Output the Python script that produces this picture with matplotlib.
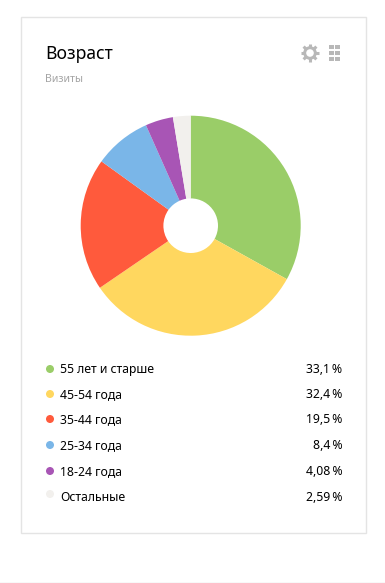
import matplotlib
matplotlib.use("Agg")
import matplotlib.pyplot as plt
from matplotlib.patches import Rectangle, Circle

W, H = 385, 583

labels = ["55 лет и старше", "45-54 года", "35-44 года", "25-34 года", "18-24 года", "Остальные"]
values = [33.1, 32.4, 19.5, 8.4, 4.08, 2.59]
value_labels = ["33,1\u2009%", "32,4\u2009%", "19,5\u2009%", "8,4\u2009%", "4,08\u2009%", "2,59\u2009%"]
colors = ["#9ACD68", "#FFD75F", "#FF5A3C", "#7AB6E8", "#A855B5", "#F2F0ED"]

plt.rcParams["font.family"] = ["Noto Sans", "DejaVu Sans"]

fig = plt.figure(figsize=(W / 100, H / 100), dpi=100)

# page layer in pixel coords, y pointing down
bg = fig.add_axes([0, 0, 1, 1])
bg.set_xlim(0, W)
bg.set_ylim(H, 0)
bg.axis("off")

bg.add_patch(Rectangle((20.5, 16.5), 345.5, 516.5, fc="white", ec="#E4E4E4", lw=1))
bg.plot([0, W], [582.5, 582.5], color="#E0E0E0", lw=1)

bg.text(45, 54, "Возраст", fontsize=12.6, color="black", va="center", ha="left")
bg.text(45, 79, "Визиты", fontsize=7.6, color="#A5A5A5", va="center", ha="left")

# gear icon
GRAY = "#B8B8B8"
gx0, gy0 = 310, 53
for dx, dy in [(9, 0), (0, 9), (6.4, 6.4), (6.4, -6.4)]:
    bg.plot([gx0 - dx, gx0 + dx], [gy0 - dy, gy0 + dy], color=GRAY, lw=2.2, solid_capstyle="butt")
bg.add_patch(Circle((gx0, gy0), 6.8, fc=GRAY, ec="none", zorder=3))
bg.add_patch(Circle((gx0, gy0), 3.8, fc="white", ec="none", zorder=4))

# grid icon
for gx in [329, 335]:
    for gy in [45, 51, 57]:
        bg.add_patch(Rectangle((gx, gy), 4.6, 4.4, fc=GRAY, ec="none"))

# pie
cx, cy, r = 190.7, 225.7, 110
size = 2 * r
pie_ax = fig.add_axes([(cx - r) / W, 1 - (cy + r) / H, size / W, size / H])
pie_ax.pie(values, colors=colors, startangle=90, counterclock=False, radius=1,
           normalize=True, wedgeprops={"width": 1 - 27.3 / r, "lw": 0})
pie_ax.set_xlim(-1, 1)
pie_ax.set_ylim(-1, 1)

# legend
rows = [369.5, 394.5, 419.5, 445.5, 471.5, 497.5]
dot_rows = [369, 394, 419, 445, 471, 494]
for i, lab in enumerate(labels):
    bg.add_patch(Circle((50, dot_rows[i]), 4, fc=colors[i], ec="none"))
    bg.text(60, rows[i], lab, fontsize=8.8, color="#000000", va="center", ha="left")
    bg.text(342.5, rows[i], value_labels[i], fontsize=8.8, color="#000000", va="center", ha="right")

fig.savefig("out.png", dpi=100)
